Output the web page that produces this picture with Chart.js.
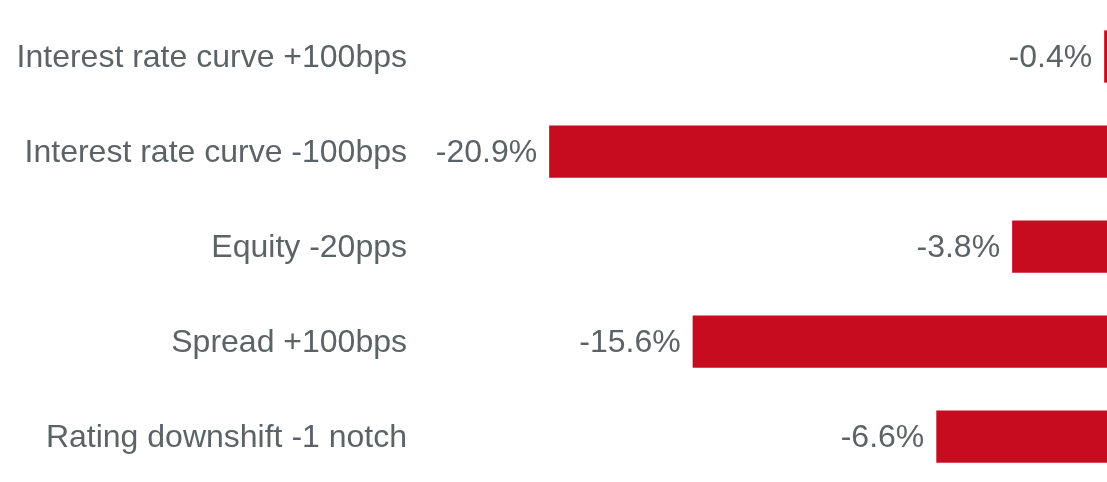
<!DOCTYPE html>
<html>
<head>
<meta charset="utf-8">
<script src="https://cdn.jsdelivr.net/npm/chart.js@4/dist/chart.umd.min.js"></script>
<style>
    html, body { margin: 0; padding: 0; background: #ffffff; overflow: hidden; width: 1107px; height: 482px; }
    #wrap { position: absolute; left: 0; top: 0; width: 1115px; height: 484px; }
</style>
</head>
<body>
<div id="wrap"><canvas id="sensChart" width="1115" height="484"></canvas></div>
<script>
const categories = [
    'Interest rate curve +100bps',
    'Interest rate curve -100bps',
    'Equity -20pps',
    'Spread +100bps',
    'Rating downshift -1 notch'
];
const impactValues = [-0.4, -20.9, -3.8, -15.6, -6.6];

const BAR_RED = '#c80c1f';
const TEXT_GREY = '#5c6367';
const FONT = "'Liberation Sans', Arial, sans-serif";

// value labels sit just left of each bar end
const valueLabels = {
    id: 'valueLabels',
    afterDatasetsDraw(chart) {
        const { ctx } = chart;
        const meta = chart.getDatasetMeta(0);
        ctx.save();
        ctx.font = `32px ${FONT}`;
        ctx.fillStyle = TEXT_GREY;
        ctx.textAlign = 'right';
        ctx.textBaseline = 'middle';
        meta.data.forEach((bar, i) => {
            const v = chart.data.datasets[0].data[i];
            ctx.fillText(v.toFixed(1) + '%', bar.x - 12, bar.y + 2);
        });
        ctx.restore();
    }
};

new Chart(document.getElementById('sensChart').getContext('2d'), {
    type: 'bar',
    data: {
        labels: categories,
        datasets: [{
            data: impactValues,
            backgroundColor: BAR_RED,
            borderWidth: 0,
            categoryPercentage: 1,
            barPercentage: 0.55
        }]
    },
    options: {
        indexAxis: 'y',
        responsive: false,
        animation: false,
        layout: { padding: { top: 9, bottom: 0, left: 0, right: 0 } },
        plugins: {
            legend: { display: false },
            tooltip: { enabled: false }
        },
        scales: {
            x: {
                display: false,
                min: -25.67,
                max: 0
            },
            y: {
                afterFit: (scale) => {
                    scale.width = 420;
                    scale.paddingTop = 0;
                    scale.paddingBottom = 0;
                },
                grid: { display: false, drawTicks: false },
                border: { display: false },
                ticks: {
                    color: TEXT_GREY,
                    padding: 13,
                    labelOffset: 2,
                    font: { family: FONT, size: 32 }
                }
            }
        }
    },
    plugins: [valueLabels]
});
</script>
</body>
</html>
